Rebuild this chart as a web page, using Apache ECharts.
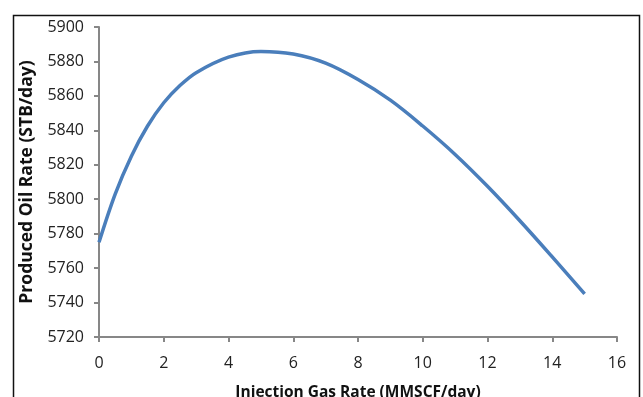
<!DOCTYPE html>
<html>
<head>
<meta charset="utf-8">
<script src="https://cdn.jsdelivr.net/npm/echarts@6/dist/echarts.min.js"></script>
<style>
html,body{margin:0;padding:0;background:#fff;}
#chart{width:643px;height:397px;}
</style>
</head>
<body>
<div id="chart"></div>
<script>
const gasRate = [0, 0.5, 1, 1.5, 2, 2.5, 3, 4, 5, 6, 7, 8, 9, 10, 11, 12, 13, 14, 15];
const oilRate = [5775, 5803, 5825, 5842.5, 5856, 5866, 5873.5, 5882.5, 5885.8, 5884.3, 5879, 5869.5, 5857.5, 5842.5, 5826, 5807.5, 5787.5, 5766.5, 5745];
const xTitle = 'Injection Gas Rate (MMSCF/day)';
const yTitle = 'Produced Oil Rate (STB/day)';

const chart = echarts.init(document.getElementById('chart'), null, {renderer: 'canvas'});
const labelStyle = {fontFamily: 'Open Sans', fontSize: 16, color: '#222'};
const axisLineStyle = {color: '#878787', width: 2};
chart.setOption({
  animation: false,
  backgroundColor: '#fff',
  graphic: [{
    type: 'rect', left: 11, top: 13,
    shape: {width: 626, height: 420},
    style: {fill: 'none', stroke: '#111', lineWidth: 1.5},
    silent: true, z: -1
  }],
  grid: {left: 99, right: 26, top: 27, bottom: 60, containLabel: false, outerBoundsMode: 'none'},
  xAxis: {
    type: 'value', min: 0, max: 16, interval: 2,
    name: xTitle, nameLocation: 'middle', nameGap: 48,
    nameTextStyle: {fontFamily: 'Open Sans', fontWeight: 'bold', fontSize: 15.5, color: '#111'},
    axisLine: {show: true, lineStyle: axisLineStyle},
    axisTick: {show: true, length: 5, inside: false, lineStyle: axisLineStyle},
    axisLabel: Object.assign({margin: 18, formatter: v => String(v)}, labelStyle),
    splitLine: {show: false}
  },
  yAxis: {
    type: 'value', min: 5720, max: 5900, interval: 20,
    name: yTitle, nameLocation: 'middle', nameGap: 60,
    nameTextStyle: {fontFamily: 'Open Sans', fontWeight: 'bold', fontSize: 17.5, color: '#111'},
    axisLine: {show: true, lineStyle: axisLineStyle},
    axisTick: {show: true, length: 5, lineStyle: axisLineStyle},
    axisLabel: Object.assign({margin: 15, formatter: v => String(v)}, labelStyle),
    splitLine: {show: false}
  },
  series: [{
    type: 'line',
    data: gasRate.map((x, i) => [x, oilRate[i]]),
    smooth: 0.35,
    showSymbol: false,
    lineStyle: {color: '#4a7ebb', width: 3.5},
    itemStyle: {color: '#4a7ebb'}
  }]
});
</script>
</body>
</html>
